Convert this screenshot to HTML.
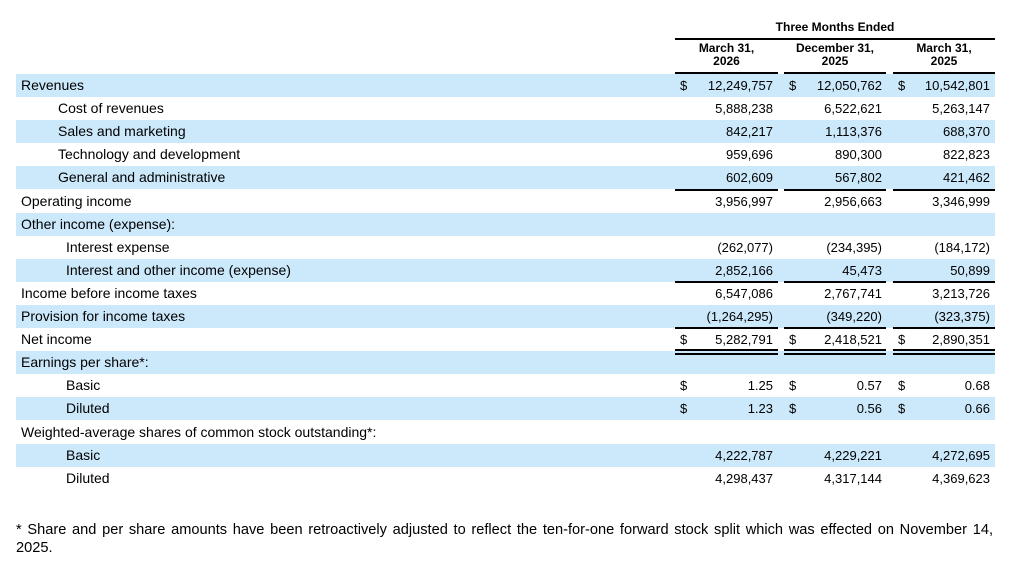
<!DOCTYPE html>
<html><head><meta charset="utf-8"><style>
body{margin:0;width:1016px;height:578px;background:#fff;font-family:"Liberation Sans",Arial,sans-serif;font-size:13px;color:#000;position:relative;overflow:hidden}
.a{position:absolute;white-space:nowrap}
.lb{font-size:14px;margin-top:-1px}
.row{position:absolute;left:16px;width:979px;height:23px}
.sh{background:#cce9fb}
.r{position:absolute;text-align:right;width:120px}
.ln{position:absolute;height:2px;background:#000}
.h{font-weight:bold;font-size:12px;text-align:center;position:absolute;line-height:13px}
</style></head><body>
<div class="h" style="left:675px;width:320px;top:21px">Three Months Ended</div>
<div class="ln" style="left:675px;width:320px;top:38px"></div>
<div class="h" style="left:675px;width:103px;top:42px">March 31,<br>2026</div>
<div class="h" style="left:784px;width:102px;top:42px">December 31,<br>2025</div>
<div class="h" style="left:893px;width:102px;top:42px">March 31,<br>2025</div>
<div class="ln" style="left:675px;width:103px;top:72px"></div>
<div class="ln" style="left:784px;width:102px;top:72px"></div>
<div class="ln" style="left:893px;width:102px;top:72px"></div>
<div id="t"></div>
<div class="a" style="left:16px;top:521px;line-height:18px;font-size:14.6px;white-space:normal;width:977px;text-align:justify">* Share and per share amounts have been retroactively adjusted to reflect the ten-for-one forward stock split which was effected on November 14, 2025.</div>
<script>
var rows=[["Revenues",0,"12,249,757","12,050,762","10,542,801",1],
["Cost of revenues",37,"5,888,238","6,522,621","5,263,147"],
["Sales and marketing",37,"842,217","1,113,376","688,370"],
["Technology and development",37,"959,696","890,300","822,823"],
["General and administrative",37,"602,609","567,802","421,462"],
["Operating income",0,"3,956,997","2,956,663","3,346,999"],
["Other income (expense):",0,"","",""],
["Interest expense",45,"(262,077)","(234,395)","(184,172)"],
["Interest and other income (expense)",45,"2,852,166","45,473","50,899"],
["Income before income taxes",0,"6,547,086","2,767,741","3,213,726"],
["Provision for income taxes",0,"(1,264,295)","(349,220)","(323,375)"],
["Net income",0,"5,282,791","2,418,521","2,890,351",1],
["Earnings per share*:",0,"","",""],
["Basic",45,"1.25","0.57","0.68",1],
["Diluted",45,"1.23","0.56","0.66",1],
["Weighted-average shares of common stock outstanding*:",0,"","",""],
["Basic",45,"4,222,787","4,229,221","4,272,695"],
["Diluted",45,"4,298,437","4,317,144","4,369,623"]];
var h="",cs=[675,784,893],re=[773,882,990];
rows.forEach(function(r,i){var y=74+i*23.1;
h+='<div class="row'+(i%2==0?' sh':'')+'" style="top:'+y+'px"></div>';
h+='<div class="a lb" style="left:'+(21+r[1])+'px;top:'+(y+4)+'px">'+r[0]+'</div>';
for(var c=0;c<3;c++){h+='<div class="a r" style="left:'+(re[c]-120)+'px;top:'+(y+4)+'px">'+r[2+c]+'</div>';
if(r[5])h+='<div class="a" style="left:'+(cs[c]+5)+'px;top:'+(y+4)+'px">$</div>';}
});
function L(y,dbl){for(var c=0;c<3;c++){var w=c?102:103;h+='<div class="ln" style="left:'+cs[c]+'px;width:'+w+'px;top:'+y+'px"></div>';if(dbl)h+='<div class="ln" style="left:'+cs[c]+'px;width:'+w+'px;top:'+(y+4)+'px"></div>';}}
L(74+5*23.1-1);L(74+9*23.1-1);L(74+11*23.1-1);L(74+12*23.1-2,1);
document.getElementById('t').innerHTML=h;
</script>
</body></html>
